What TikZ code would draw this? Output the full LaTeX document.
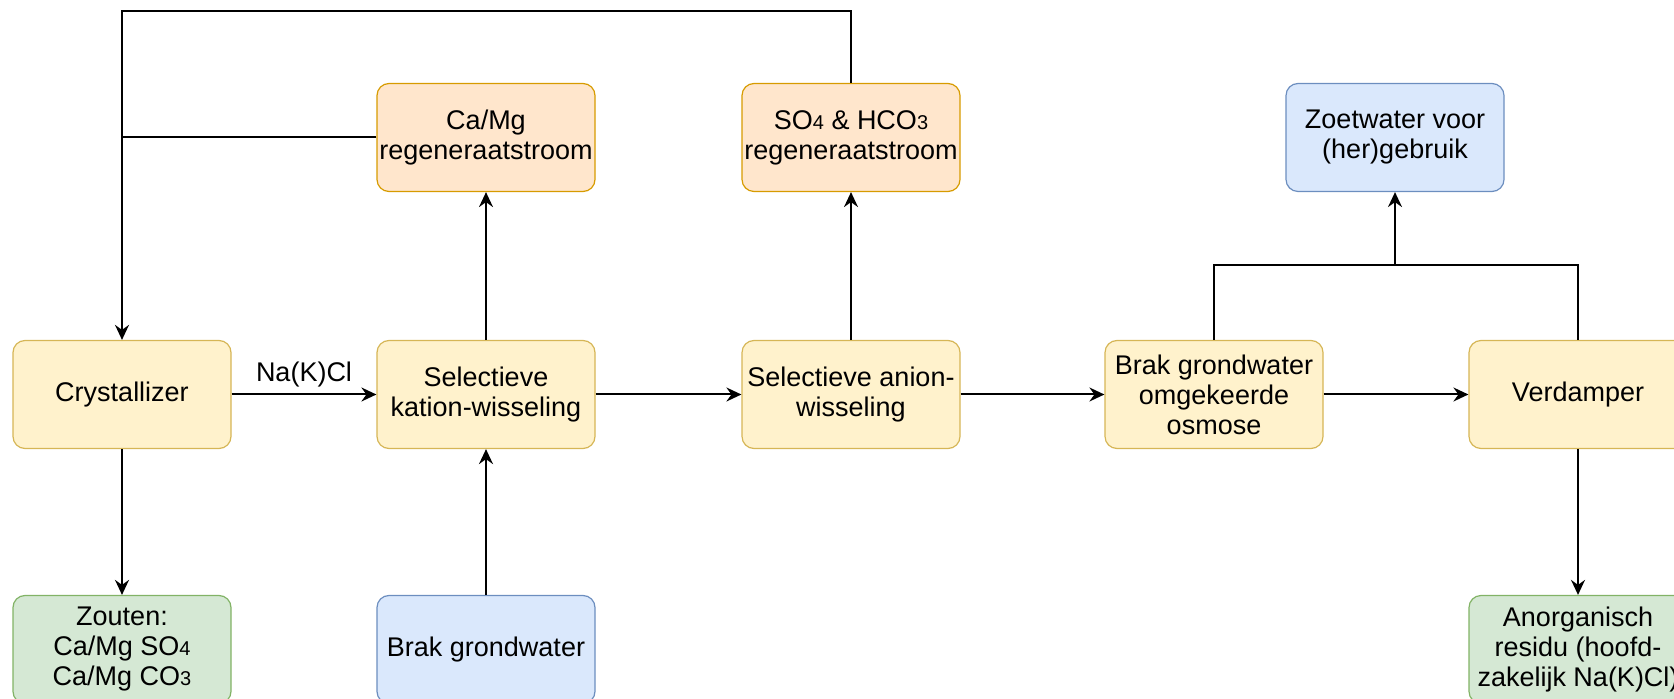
\documentclass[tikz,border=0pt]{standalone}
\usepackage{fontspec}
\setmainfont{Liberation Sans}
\usepackage{xcolor}
\usetikzlibrary{arrows.meta, positioning}

\definecolor{ylwfill}{HTML}{FFF2CC}
\definecolor{ylwline}{HTML}{D6B656}
\definecolor{orgfill}{HTML}{FFE6CC}
\definecolor{orgline}{HTML}{D79B00}
\definecolor{blufill}{HTML}{DAE8FC}
\definecolor{bluline}{HTML}{6C8EBF}
\definecolor{grnfill}{HTML}{D5E8D4}
\definecolor{grnline}{HTML}{82B366}
\newcommand{\ionidx}[1]{{\fontsize{10}{10}\selectfont #1}}

\begin{document}
\begin{tikzpicture}[x=0.5pt, y=-0.5pt, line width=1pt, >={Stealth[length=7.5pt, width=7pt, inset=2.5pt]},
    box/.style={draw, rounded corners=6pt, line width=0.6pt, minimum width=109pt, minimum height=54pt,
        inner sep=1pt, align=center, font=\fontsize{13.5}{15}\selectfont},
    proc/.style={box, fill=ylwfill, draw=ylwline},
    regen/.style={box, fill=orgfill, draw=orgline},
    water/.style={box, fill=blufill, draw=bluline},
    solid/.style={box, fill=grnfill, draw=grnline}]
    \clip (0,0) rectangle (1674,699);
    % top row
    \node[regen] (camg) at (486, 137.5) {Ca/Mg\\regeneraatstroom};
    \node[regen] (sohco) at (851, 137.5) {SO\ionidx{4} \& HCO\ionidx{3}\\regeneraatstroom};
    \node[water] (zoet) at (1395, 137.5) {Zoetwater voor\\(her)gebruik};
    % middle row
    \node[proc] (cryst) at (122, 394.5) {Crystallizer};
    \node[proc] (kation) at (486, 394.5) {Selectieve\\kation-wisseling};
    \node[proc] (anion) at (851, 394.5) {Selectieve anion-\\wisseling};
    \node[proc] (osmose) at (1214, 394.5) {Brak grondwater\\omgekeerde\\osmose};
    \node[proc] (verdamp) at (1578, 394.5) {Verdamper};
    % bottom row
    \node[solid] (zouten) at (122, 649.5) {Zouten:\\Ca/Mg SO\ionidx{4}\\Ca/Mg CO\ionidx{3}};
    \node[water] (brak) at (486, 649.5) {Brak grondwater};
    \node[solid] (residu) at (1578, 649.5) {Anorganisch\\residu (hoofd-\\zakelijk Na(K)Cl)};

    \coordinate (retour) at (122, 11);
    \coordinate (split) at (1395, 265);

    \draw
    (cryst) edge[->] node[above, font=\fontsize{13.5}{15}\selectfont]{Na(K)Cl} (kation)
    (kation) edge[->] (anion)
    (anion) edge[->] (osmose)
    (osmose) edge[->] (verdamp)
    (brak) edge[->] (kation)
    (kation) edge[->] (camg)
    (anion) edge[->] (sohco)
    (cryst) edge[->] (zouten)
    (verdamp) edge[->] (residu);
    \draw[->] (sohco.north) |- (retour) -- (cryst.north);
    \draw (camg.west) -- (camg.west -| retour);
    \draw[->] (osmose.north) |- (split) -- (zoet.south);
    \draw (verdamp.north) |- (split);
\end{tikzpicture}
\end{document}
